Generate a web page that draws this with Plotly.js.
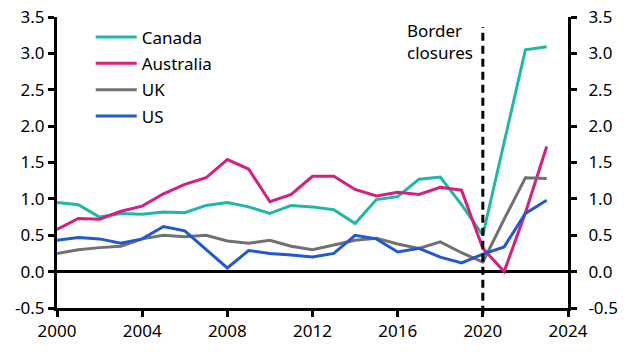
<!DOCTYPE html>
<html>
<head>
<meta charset="utf-8">
<script src="https://cdn.plot.ly/plotly-3.0.1.min.js"></script>
<style>html,body{margin:0;padding:0;background:#fff;}#chart{width:627px;height:352px;}</style>
</head>
<body>
<div id="chart"></div>
<script>
const years = [2000,2001,2002,2003,2004,2005,2006,2007,2008,2009,2010,2011,2012,2013,2014,2015,2016,2017,2018,2019,2020,2021,2022,2023];
const canada    = [0.95,0.92,0.75,0.80,0.79,0.82,0.81,0.91,0.95,0.89,0.80,0.91,0.89,0.85,0.66,0.99,1.03,1.27,1.30,0.92,0.50,1.78,3.05,3.09];
const australia = [0.58,0.73,0.72,0.83,0.90,1.07,1.20,1.29,1.54,1.41,0.96,1.06,1.31,1.31,1.13,1.04,1.09,1.06,1.16,1.12,0.32,0.00,0.81,1.72];
const uk        = [0.25,0.30,0.33,0.35,0.45,0.50,0.48,0.50,0.42,0.39,0.43,0.35,0.30,0.37,0.43,0.46,0.38,0.32,0.41,0.26,0.13,0.72,1.29,1.28];
const us        = [0.43,0.47,0.45,0.39,0.45,0.62,0.56,0.30,0.05,0.29,0.25,0.23,0.20,0.25,0.50,0.45,0.27,0.32,0.20,0.12,0.24,0.34,0.80,0.98];
const seriesNames = ['Canada','Australia','UK','US'];
const yTickVals = [-0.5,0,0.5,1,1.5,2,2.5,3,3.5];
const yTickText = ['-0.5','0.0','0.5','1.0','1.5','2.0','2.5','3.0','3.5'];
const xTickVals = [2000,2004,2008,2012,2016,2020,2024];
const xTickText = ['2000','2004','2008','2012','2016','2020','2024'];
const markerYear = 2020;
const annotationText = 'Border<br>closures';

const colors = ['#1db9a6','#d61f7e','#717171','#2159d3'];
const seriesData = [canada, australia, uk, us];
const FONT = '"Noto Sans", "Open Sans", sans-serif';

const traces = seriesData.map((ys, i) => ({
  x: years, y: ys, name: seriesNames[i], legendgroup: 'g' + i, type: 'scatter', mode: 'lines',
  line: {color: colors[i], width: 3}, hoverinfo: 'skip'
}));
// transparent trace on the right axis so it is drawn
traces.push({x: years, y: canada, yaxis: 'y2', type: 'scatter', mode: 'lines',
  line: {color: 'rgba(0,0,0,0)', width: 0}, showlegend: false, hoverinfo: 'skip'});

const yAxisCommon = {
  range: [-0.5, 3.5], tickvals: yTickVals, ticktext: yTickText,
  showgrid: false, showline: true, linecolor: '#000', linewidth: 3,
  ticks: 'outside', ticklen: 6, tickwidth: 3, tickcolor: '#000',
  tickfont: {family: FONT, size: 17, color: '#000'}, fixedrange: true
};

const layout = {
  width: 627, height: 352,
  margin: {l: 57, r: 59, t: 17, b: 44},
  paper_bgcolor: '#fff', plot_bgcolor: '#fff',
  font: {family: FONT, size: 17, color: '#000'},
  showlegend: true,
  legend: {x: 0.066, y: 0.992, xanchor: 'left', yanchor: 'top', bgcolor: 'rgba(0,0,0,0)',
    itemwidth: 41, traceorder: 'grouped', tracegroupgap: 1.3,
    font: {family: FONT, size: 17, color: '#000'}},
  xaxis: {
    range: [2000, 2024], tickvals: xTickVals, ticktext: xTickText,
    showgrid: false, zeroline: false, showline: true, linecolor: '#000', linewidth: 3,
    ticks: 'outside', ticklen: 6, tickwidth: 3, tickcolor: '#000',
    ticklabelstandoff: 0,
    tickfont: {family: FONT, size: 17, color: '#000'}, fixedrange: true
  },
  yaxis: Object.assign({}, yAxisCommon, {side: 'left', zeroline: true, zerolinecolor: '#000', zerolinewidth: 3, ticklabelstandoff: 0}),
  yaxis2: Object.assign({}, yAxisCommon, {side: 'right', overlaying: 'y', zeroline: false, ticklabelstandoff: 8}),
  shapes: [{
    type: 'line', xref: 'x', yref: 'paper', x0: markerYear, x1: markerYear, y0: -0.02, y1: 0.966,
    line: {color: '#000', width: 3, dash: '8px,5px'}, layer: 'above'
  }],
  annotations: [{
    xref: 'x', yref: 'paper', x: markerYear, y: 1.0, xanchor: 'right', yanchor: 'top',
    xshift: -8, yshift: 0, align: 'left', showarrow: false, text: annotationText,
    font: {family: FONT, size: 17, color: '#000'}
  }]
};

Plotly.newPlot('chart', traces, layout, {displayModeBar: false, staticPlot: true});
</script>
</body>
</html>
